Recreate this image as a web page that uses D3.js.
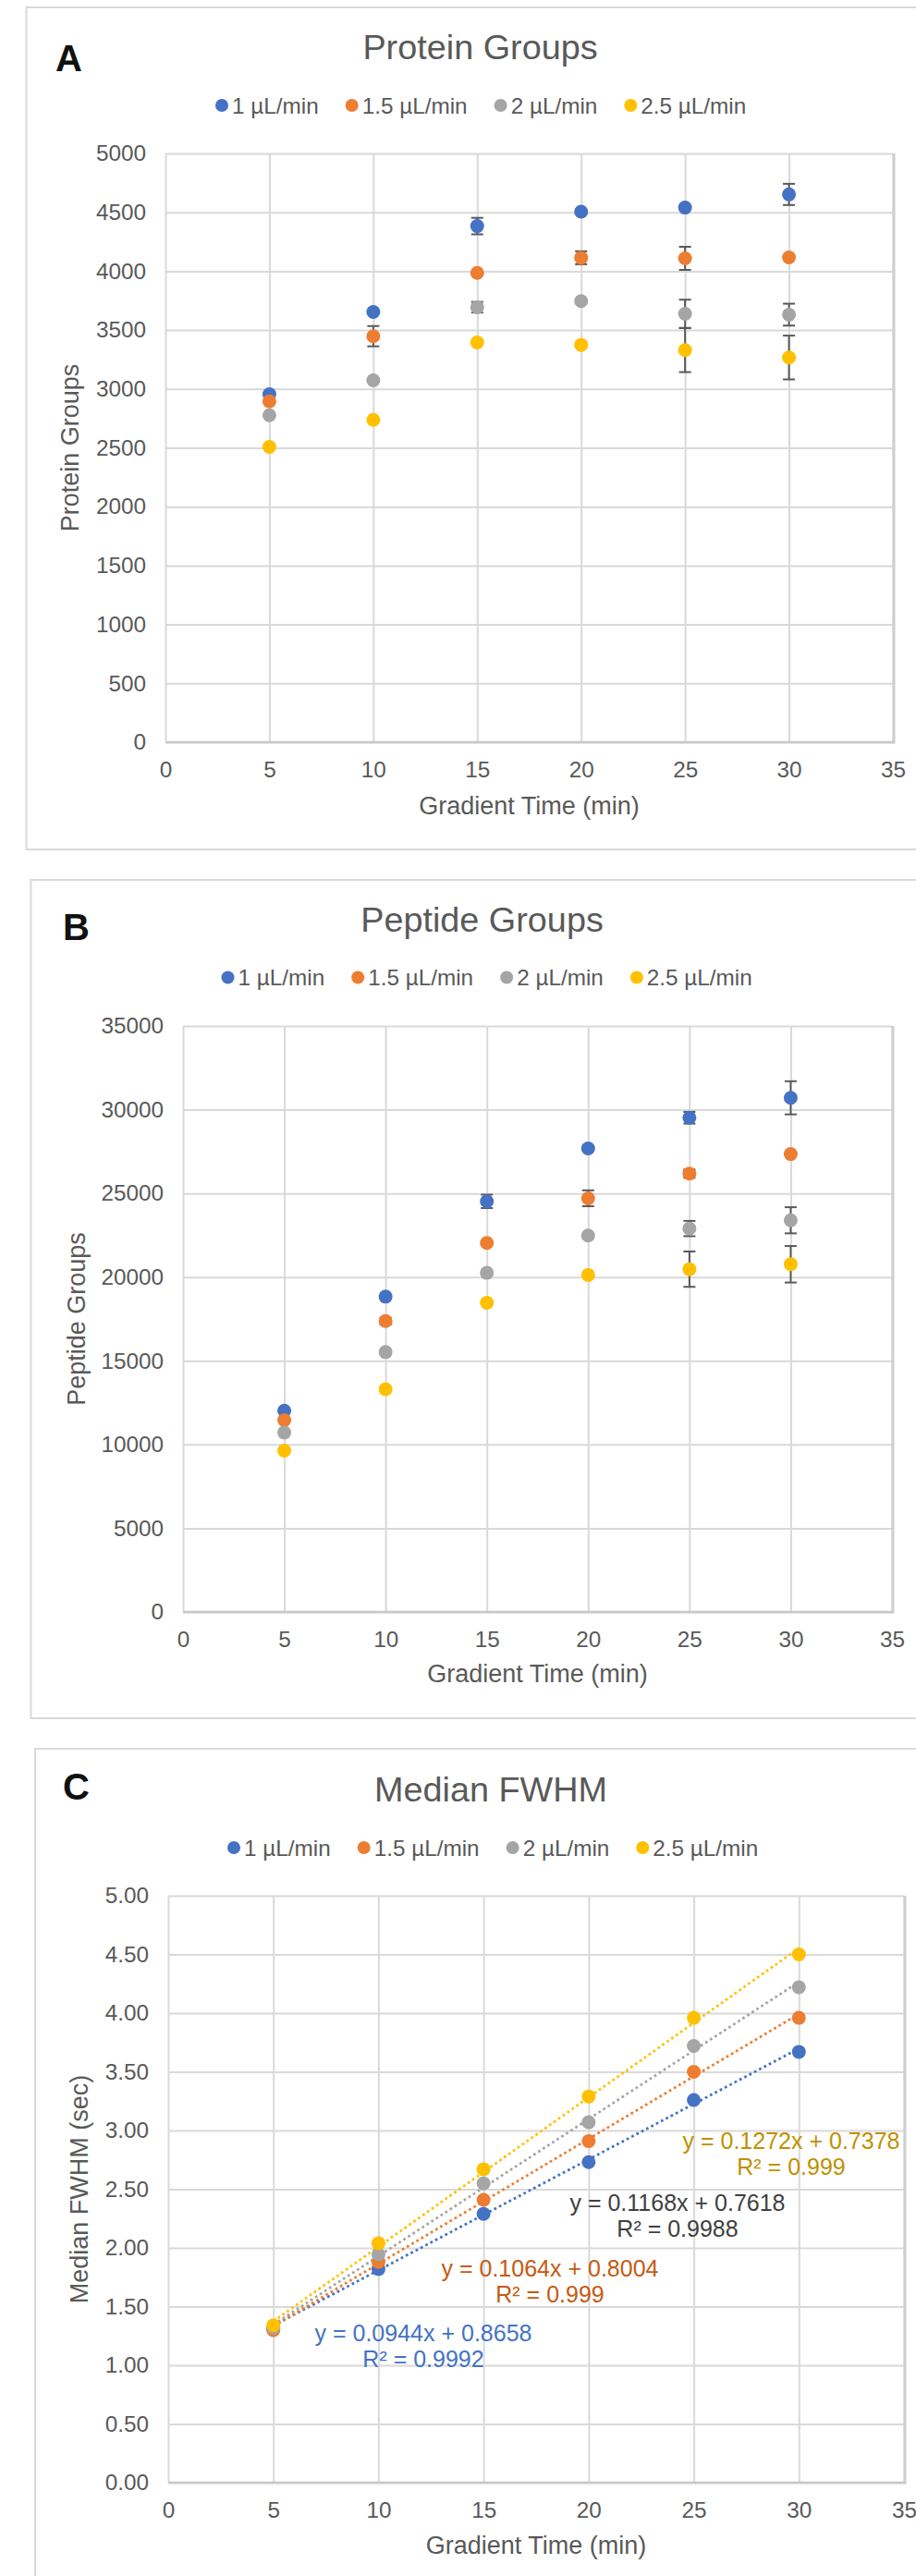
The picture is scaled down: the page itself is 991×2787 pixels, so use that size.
<!DOCTYPE html>
<html>
<head>
<meta charset="utf-8">
<script src="https://cdn.jsdelivr.net/npm/d3@7"></script>
<style>
	body { margin: 0; background: #fff; }
	svg text { font-family: "Liberation Sans", Arial, sans-serif; }
</style>
</head>
<body>
<div id="chart"></div>
<script>
let width = 991,
	height = 2787;

// shared x values and series
let gradientTimes = [5, 10, 15, 20, 25, 30];
let seriesNames = ["1 µL/min", "1.5 µL/min", "2 µL/min", "2.5 µL/min"];
let seriesColors = ["#4472C4", "#ED7D31", "#A5A5A5", "#FFC000"];
let xTicks = [0, 5, 10, 15, 20, 25, 30, 35];

// A: protein groups (mean, error)
let protein1 = [2955, 3654, 4383, 4505, 4540, 4652];
let protein15 = [2895, 3448, 3985, 4114, 4109, 4117];
let protein2 = [2777, 3073, 3694, 3746, 3638, 3631];
let protein25 = [2508, 2738, 3395, 3374, 3330, 3267];
let proteinErr1 = [0, 0, 70, 20, 15, 90];
let proteinErr15 = [0, 86, 0, 55, 98, 0];
let proteinErr2 = [0, 0, 45, 0, 120, 93];
let proteinErr25 = [0, 0, 0, 20, 187, 186];

// B: peptide groups
let peptide1 = [12020, 18832, 24525, 27686, 29520, 30709];
let peptide15 = [11454, 17372, 22043, 24708, 26180, 27350];
let peptide2 = [10718, 15520, 20255, 22482, 22901, 23394];
let peptide25 = [9632, 13307, 18467, 20128, 20474, 20767];
let peptideErr1 = [0, 0, 400, 150, 350, 990];
let peptideErr15 = [0, 200, 0, 475, 250, 0];
let peptideErr2 = [0, 0, 0, 0, 456, 780];
let peptideErr25 = [0, 0, 0, 0, 1055, 1090];

// C: median FWHM (sec) and linear trendlines
let fwhm1 = [1.31, 1.82, 2.29, 2.73, 3.26, 3.67];
let fwhm15 = [1.30, 1.88, 2.41, 2.91, 3.50, 3.96];
let fwhm2 = [1.32, 1.945, 2.55, 3.07, 3.72, 4.22];
let fwhm25 = [1.34, 2.04, 2.67, 3.29, 3.96, 4.50];
let trendSlopes = [0.0944, 0.1064, 0.1168, 0.1272];
let trendIntercepts = [0.8658, 0.8004, 0.7618, 0.7378];
let trendR2 = ["0.9992", "0.999", "0.9988", "0.999"];
let trendLabelColors = ["#4472C4", "#C55A11", "#404040", "#BF9000"];

let svg = d3.select('#chart').append('svg')
	.attr('width', width)
	.attr('height', height)

svg.append('rect').attr('width', width).attr('height', height).attr('fill', '#fff')

let panels = [
	{
		letter: "A", title: "Protein Groups", yTitle: "Protein Groups",
		box: [28.5, 8, 919], plot: [179, 166, 966, 803], titleX: 519.5, titleY: 63.5, letterY: 77,
		legendX: 240, legendY: 114, xTitleY: 881, yTitleX: 85,
		yMax: 5000, yStep: 500, fmt: d3.format("d"),
		series: [protein1, protein15, protein2, protein25],
		errors: [proteinErr1, proteinErr15, proteinErr2, proteinErr25]
	},
	{
		letter: "B", title: "Peptide Groups", yTitle: "Peptide Groups",
		box: [33.5, 952, 1859], plot: [198, 1110, 965, 1744], titleX: 521.5, titleY: 1008, letterY: 1017,
		legendX: 246.5, legendY: 1057.5, xTitleY: 1820, yTitleX: 92,
		yMax: 35000, yStep: 5000, fmt: d3.format("d"),
		series: [peptide1, peptide15, peptide2, peptide25],
		errors: [peptideErr1, peptideErr15, peptideErr2, peptideErr25]
	},
	{
		letter: "C", title: "Median FWHM", yTitle: "Median FWHM (sec)",
		box: [38, 1892, 2900], plot: [182, 2051, 978, 2686], titleX: 531, titleY: 1948.5, letterY: 1947,
		legendX: 253, legendY: 1999, xTitleY: 2763, yTitleX: 95,
		yMax: 5, yStep: 0.5, fmt: d3.format(".2f"),
		series: [fwhm1, fwhm15, fwhm2, fwhm25],
		errors: null,
		// label anchors, relative to plot top-left
		trendLabels: [[276, 482], [413, 412], [551, 341], [674, 274]]
	}
];

panels.forEach(function (p) {
	let g = svg.append('g');
	let [left, top, right, bottom] = p.plot;

	// outer chart box (runs off the right edge like the original)
	g.append('rect')
		.attr('x', p.box[0]).attr('y', p.box[1])
		.attr('width', 1100).attr('height', p.box[2] - p.box[1])
		.attr('fill', 'none').attr('stroke', '#D9D9D9').attr('stroke-width', 2)

	let x = d3.scaleLinear().domain([0, 35]).range([left, right]);
	let y = d3.scaleLinear().domain([0, p.yMax]).range([bottom, top]);

	let yAxis = d3.axisLeft(y)
		.tickValues(d3.range(0, p.yMax + p.yStep / 2, p.yStep))
		.tickFormat(p.fmt)
		.tickSizeInner(-(right - left)).tickSizeOuter(0).tickPadding(21);

	let xAxis = d3.axisBottom(x)
		.tickValues(xTicks)
		.tickSizeInner(-(bottom - top)).tickSizeOuter(0).tickPadding(21);

	[g.append('g').attr('transform', 'translate(' + left + ',0)').call(yAxis),
	 g.append('g').attr('transform', 'translate(0,' + bottom + ')').call(xAxis)].forEach(function (a) {
		a.select('.domain').remove();
		a.selectAll('line').attr('stroke', '#D9D9D9').attr('stroke-width', 2);
		a.selectAll('text').attr('fill', '#595959').style('font-size', '24.3px');
	});

	// plot area edges, slightly darker
	g.append('line').attr('x1', right + 1).attr('x2', right + 1).attr('y1', top).attr('y2', bottom + 1.5)
		.attr('stroke', '#CFCFCF').attr('stroke-width', 3)
	g.append('line').attr('x1', left).attr('x2', right + 2).attr('y1', bottom).attr('y2', bottom)
		.attr('stroke', '#C8C8C8').attr('stroke-width', 2.5)

	// titles
	g.append('text').text(p.letter)
		.attr('x', 60 + (p.letter === "A" ? 0 : 8)).attr('y', p.letterY)
		.style('font-size', '40px').style('font-weight', 'bold').attr('fill', '#111')

	g.append('text').text(p.title)
		.attr('x', p.titleX).attr('y', p.titleY).attr('text-anchor', 'middle')
		.style('font-size', '37.8px').attr('fill', '#595959')

	g.append('text').text('Gradient Time (min)')
		.attr('x', (left + right) / 2).attr('y', p.xTitleY).attr('text-anchor', 'middle')
		.style('font-size', '27px').attr('fill', '#595959')

	g.append('text').text(p.yTitle)
		.attr('transform', 'translate(' + p.yTitleX + ',' + ((top + bottom) / 2) + ') rotate(-90)')
		.attr('text-anchor', 'middle')
		.style('font-size', '27px').attr('fill', '#595959')

	// legend
	let lx = p.legendX;
	seriesNames.forEach(function (name, i) {
		g.append('circle').attr('cx', lx).attr('cy', p.legendY).attr('r', 7).attr('fill', seriesColors[i]);
		let t = g.append('text').text(name)
			.attr('x', lx + 11).attr('y', p.legendY).attr('dy', '0.36em')
			.style('font-size', '24.3px').attr('fill', '#595959');
		lx += 11 + t.node().getComputedTextLength() + 36;
	});

	// trendlines (panel C)
	if (p.trendLabels) {
		let xr = d3.extent(gradientTimes);
		let line = d3.line().x(function (d) { return x(d[0]) }).y(function (d) { return y(d[1]) });
		trendSlopes.forEach(function (m, i) {
			let b = trendIntercepts[i];
			g.append('path')
				.datum(xr.map(function (t) { return [t, m * t + b] }))
				.attr('d', line)
				.attr('fill', 'none').attr('stroke', seriesColors[i])
				.attr('stroke-width', 2.75).attr('stroke-dasharray', '2.75 3.25');
		});
	}

	// error bars
	if (p.errors) {
		p.series.forEach(function (vals, i) {
			let eg = g.append('g').attr('stroke', '#595959').attr('stroke-width', 2);
			gradientTimes.forEach(function (t, j) {
				let e = p.errors[i][j];
				if (!e) return;
				let cx = x(t), y0 = y(vals[j] - e), y1 = y(vals[j] + e);
				eg.append('line').attr('x1', cx).attr('x2', cx).attr('y1', y0).attr('y2', y1);
				eg.append('line').attr('x1', cx - 6.5).attr('x2', cx + 6.5).attr('y1', y0).attr('y2', y0);
				eg.append('line').attr('x1', cx - 6.5).attr('x2', cx + 6.5).attr('y1', y1).attr('y2', y1);
			});
		});
	}

	// points
	p.series.forEach(function (vals, i) {
		g.append('g').selectAll('circle')
			.data(vals)
			.enter().append('circle')
			.attr('cx', function (d, j) { return x(gradientTimes[j]) })
			.attr('cy', function (d) { return y(d) })
			.attr('r', 7.5)
			.attr('fill', seriesColors[i]);
	});

	// trendline equations
	if (p.trendLabels) {
		p.trendLabels.forEach(function (pos, i) {
			let lab = g.append('text')
				.attr('x', left + pos[0]).attr('y', top + pos[1])
				.attr('text-anchor', 'middle')
				.style('font-size', '25px').attr('fill', trendLabelColors[i]);
			lab.append('tspan').text('y = ' + trendSlopes[i] + 'x + ' + trendIntercepts[i]);
			lab.append('tspan').attr('x', left + pos[0]).attr('dy', 27.5).text('R² = ' + trendR2[i]);
		});
	}
});
</script>
</body>
</html>
